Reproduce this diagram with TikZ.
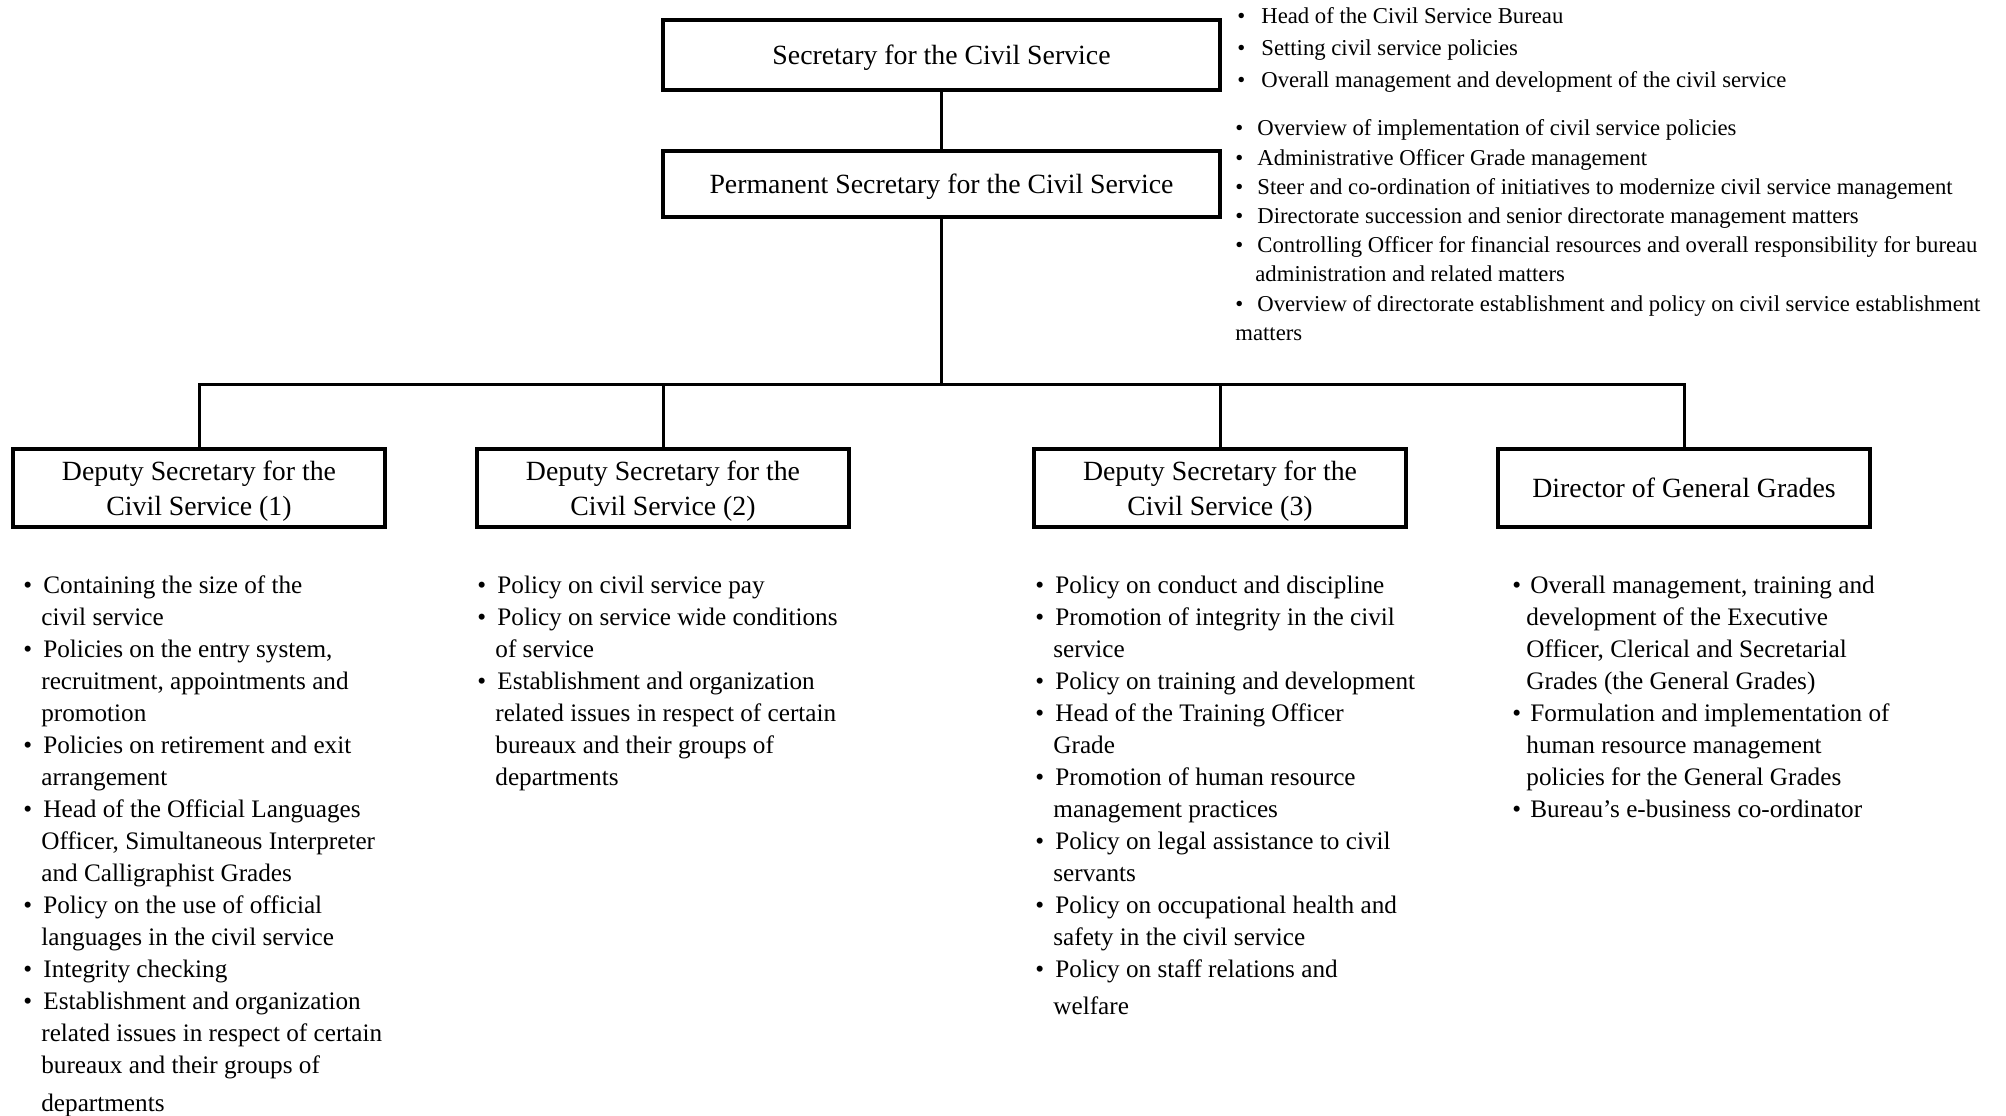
\documentclass[tikz,border=0pt]{standalone}
\usepackage{fontspec}
\setmainfont{Liberation Serif}
\usetikzlibrary{positioning}

\newcommand{\itm}[1][10pt]{\makebox[#1][l]{\textbullet}}
\newcommand{\cnt}[1][9pt]{\hspace*{#1}}

\begin{document}
\begin{tikzpicture}[
            x=0.5pt, y=-0.5pt,
            post/.style={draw, line width=1.6pt, align=center, inner sep=0pt, outer sep=0pt,
                text depth=0pt, font=\fontsize{13.9}{17.3}\selectfont},
            toppost/.style={post, minimum width=278.5pt},
            deputy/.style={post, minimum width=186pt, minimum height=39pt},
            duties/.style={anchor=north west, align=left, inner sep=0pt,
                font=\fontsize{12.6}{16}\selectfont},
            link/.style={line width=1.5pt},
        ]
            \useasboundingbox (0,0) rectangle (2006,1115);

            % posts
            \node[toppost, minimum height=35pt] (sec) at (941.5,55) {Secretary for the Civil Service};
            \node[toppost, minimum height=33pt] (perm) at (941.5,184) {Permanent Secretary for the Civil Service};
            \node[deputy] (ds1) at (199,488) {Deputy Secretary for the\\Civil Service (1)};
            \node[deputy] (ds2) at (663,488) {Deputy Secretary for the\\Civil Service (2)};
            \node[deputy] (ds3) at (1220,488) {Deputy Secretary for the\\Civil Service (3)};
            \node[deputy] (dg) at (1684,488) {Director of General Grades};

            % lines
            \coordinate (fork) at (941.5,384);
            \draw[link] (sec) -- (perm);
            \draw[link] (perm) -- (fork);
            \draw[link] (ds1.north) |- (fork) -| (dg.north);
            \draw[link] (ds2.north) -- (ds2.north |- fork);
            \draw[link] (ds3.north) -- (ds3.north |- fork);

            % duties
            \node[duties, font=\fontsize{11.35}{16}\selectfont] (secduties) at ([shift={(17,-12.5)}]sec.north east) {
                \itm[12pt]Head of the Civil Service Bureau\\
                \itm[12pt]Setting civil service policies\\
                \itm[12pt]Overall management and development of the civil service};
            \node[duties, font=\fontsize{11.35}{14.6}\selectfont] (permduties) at ([shift={(15,-31.5)}]perm.north east) {
                \itm[11pt]Overview of implementation of civil service policies\\
                \itm[11pt]Administrative Officer Grade management\\
                \itm[11pt]Steer and co-ordination of initiatives to modernize civil service management\\
                \itm[11pt]Directorate succession and senior directorate management matters\\
                \itm[11pt]Controlling Officer for financial resources and overall responsibility for bureau\\
                \cnt[10pt]administration and related matters\\
                \itm[11pt]Overview of directorate establishment and policy on civil service establishment\\
                matters};
            \node[duties] (ds1duties) at ([shift={(10,48.5)}]ds1.south west) {
                \itm Containing the size of the\\
                \cnt civil service\\
                \itm Policies on the entry system,\\
                \cnt recruitment, appointments and\\
                \cnt promotion\\
                \itm Policies on retirement and exit\\
                \cnt arrangement\\
                \itm Head of the Official Languages\\
                \cnt Officer, Simultaneous Interpreter\\
                \cnt and Calligraphist Grades\\
                \itm Policy on the use of official\\
                \cnt languages in the civil service\\
                \itm Integrity checking\\
                \itm Establishment and organization\\
                \cnt related issues in respect of certain\\
                \cnt bureaux and their groups of\\[3pt]
                \cnt departments};
            \node[duties] (ds2duties) at ([shift={(0,48.5)}]ds2.south west) {
                \itm Policy on civil service pay\\
                \itm Policy on service wide conditions\\
                \cnt of service\\
                \itm Establishment and organization\\
                \cnt related issues in respect of certain\\
                \cnt bureaux and their groups of\\
                \cnt departments};
            \node[duties] (ds3duties) at ([shift={(1,48.5)}]ds3.south west) {
                \itm Policy on conduct and discipline\\
                \itm Promotion of integrity in the civil\\
                \cnt service\\
                \itm Policy on training and development\\
                \itm Head of the Training Officer\\
                \cnt Grade\\
                \itm Promotion of human resource\\
                \cnt management practices\\
                \itm Policy on legal assistance to civil\\
                \cnt servants\\
                \itm Policy on occupational health and\\
                \cnt safety in the civil service\\
                \itm Policy on staff relations and\\[2.5pt]
                \cnt welfare};
            \node[duties] (dgduties) at ([shift={(14,48.5)}]dg.south west) {
                \itm[9pt]Overall management, training and\\
                \cnt[7pt]development of the Executive\\
                \cnt[7pt]Officer, Clerical and Secretarial\\
                \cnt[7pt]Grades (the General Grades)\\
                \itm[9pt]Formulation and implementation of\\
                \cnt[7pt]human resource management\\
                \cnt[7pt]policies for the General Grades\\
                \itm[9pt]Bureau’s e-business co-ordinator};
        \end{tikzpicture}
\end{document}
